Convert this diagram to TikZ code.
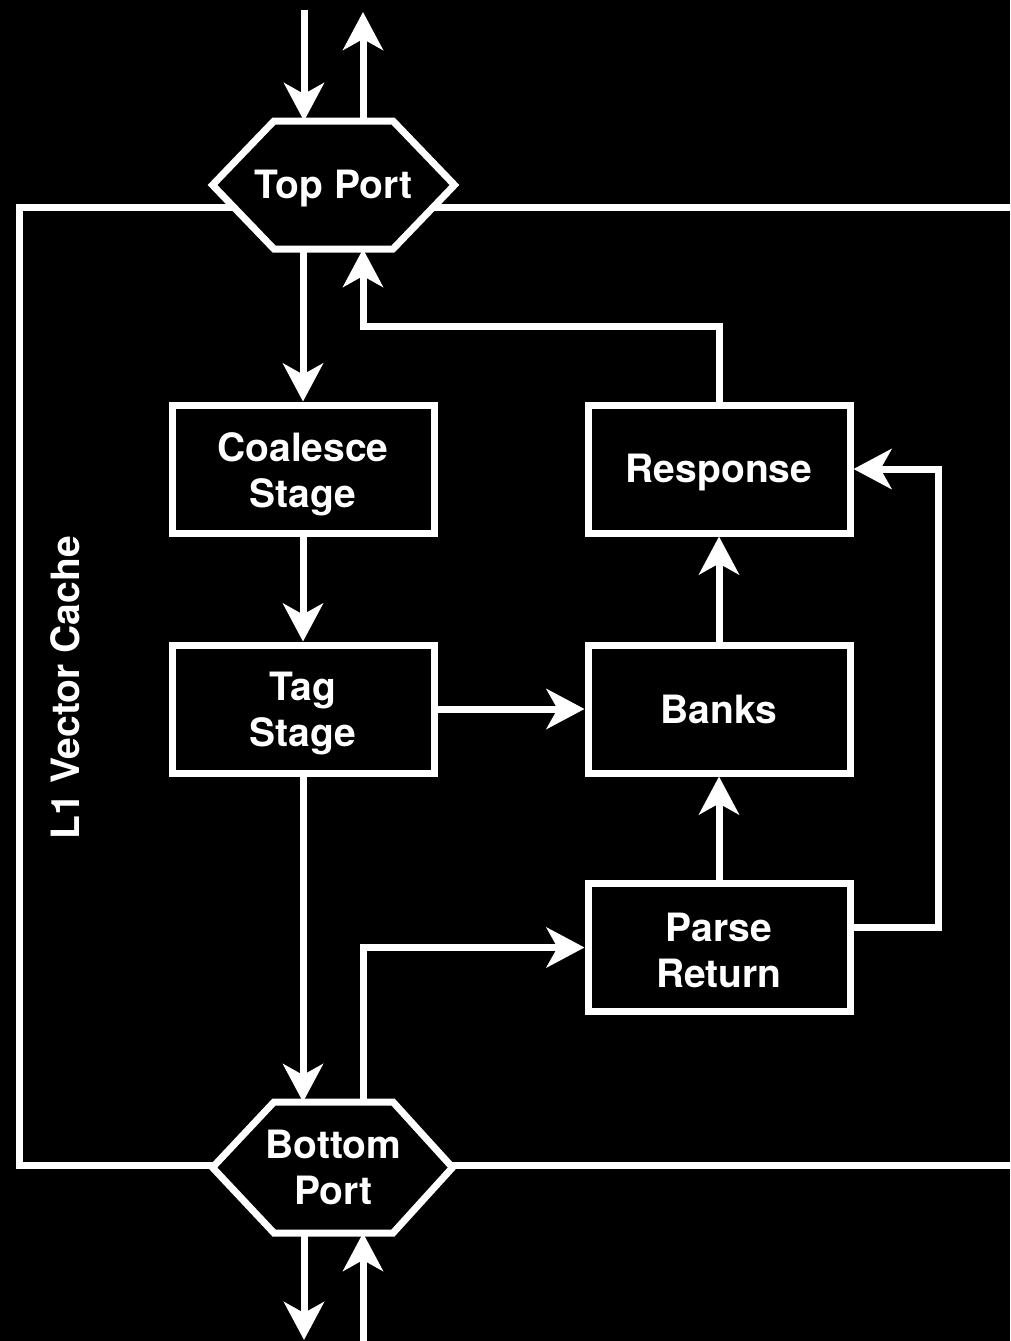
\documentclass[tikz,border=0pt]{standalone}
\usepackage{fontspec}
\setmainfont{TeX Gyre Heros}
\usetikzlibrary{arrows.meta,calc,backgrounds}
\begin{document}
\begin{tikzpicture}[x=1pt,y=-1pt, line width=7pt, white, line join=miter,
 every node/.style={font=\fontsize{39}{46}\selectfont\bfseries, text=white, align=center},
 tsh/.style={execute at begin node={\rule{0pt}{#1}}},
 blk/.style={draw=white, fill=black, minimum width=262pt, minimum height=128pt, inner sep=0pt},
 port/.style={minimum width=119pt, inner sep=0pt, outer sep=0pt},
 frame/.style={draw=white, line width=7pt, line join=miter},
 arr/.style={draw=white, -{Stealth[length=38pt,width=40pt,inset=11pt]}}]
\useasboundingbox (0,0) rectangle (1010,1341);
% nodes
\node[port, minimum height=128pt, tsh=36pt] (tp) at (333.5,185) {Top Port};
\node[port, minimum height=131pt] (bp) at (333.5,1167.5) {Bottom\\Port};
\node[blk, tsh=85pt] (cs) at (303,469) {Coalesce\\Stage};
\node[blk, tsh=84pt] (tg) at (303,709) {Tag\\Stage};
\node[blk, tsh=36pt] (rs) at (719,469) {Response};
\node[blk] (bk) at (719,709) {Banks};
\node[blk, tsh=80pt] (pr) at (719,947.5) {Parse\\Return};
\node[rotate=90] (lbl) at (65,688) {L1 Vector Cache};
% helper coordinates
\coordinate (tin) at (304,10);
\coordinate (tout) at (363,12);
\coordinate (bout) at (304,1340);
\coordinate (bin) at (363,1345);
\coordinate (rt) at (0,326);
\coordinate (rx) at (938,0);
\coordinate (fr1) at (1010,207);
\coordinate (fr2) at (19,207);
\coordinate (fr3) at (19,1165);
\coordinate (fr4) at (1010,1165);
\begin{scope}[on background layer]
\fill[black] (0,0) rectangle (1010,1341);
\draw[frame] (fr1) -- (fr2) -- (fr3) -- (fr4);
\draw[frame, fill=black] ($(tp.center)+(-59.5,-64)$) -- ($(tp.center)+(59.5,-64)$) -- ($(tp.center)+(121,0)$) -- ($(tp.center)+(59.5,64)$) -- ($(tp.center)+(-59.5,64)$) -- ($(tp.center)+(-121,0)$) -- cycle;
\draw[frame, fill=black] ($(bp.center)+(-59.5,-65.5)$) -- ($(bp.center)+(59.5,-65.5)$) -- ($(bp.center)+(119,0)$) -- ($(bp.center)+(59.5,65.5)$) -- ($(bp.center)+(-59.5,65.5)$) -- ($(bp.center)+(-121,0)$) -- cycle;
\end{scope}
% connectors
\draw[arr] (tin) -- (tin |- tp.north);
\draw[arr] (tout |- tp.north) -- (tout);
\draw[arr] (bout |- bp.south) -- (bout);
\draw[arr] (bin) -- (bin |- bp.south);
\draw[arr] (tp.south -| cs.north) -- (cs.north);
\draw[arr] (cs) -- (tg);
\draw[arr] (tg) -- (bk);
\draw[arr] (tg.south) -- (tg.south |- bp.north);
\draw[arr] (bp.north -| tout) |- (pr.west);
\draw[arr] (pr) -- (bk);
\draw[arr] (bk) -- (rs);
\draw[arr] (rs.north) -- (rs.north |- rt) -| (tout |- tp.south);
\draw[arr] ($(pr.east)+(0,-20)$) -| (rx |- rs.east) -- (rs.east);
\end{tikzpicture}
\end{document}
